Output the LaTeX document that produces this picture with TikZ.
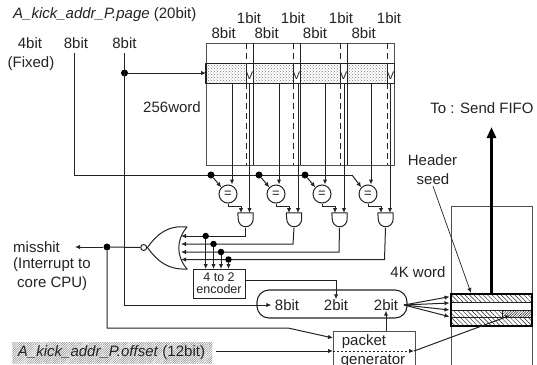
\documentclass[tikz,border=0pt]{standalone}
\usepackage{fontspec}
\setmainfont{Liberation Sans}
\usetikzlibrary{arrows.meta,patterns,patterns.meta}
\definecolor{ink}{RGB}{35,35,35}
\definecolor{frame}{RGB}{80,80,80}
\tikzset{
  >={Latex[length=5pt,width=4.5pt]},
  lbl/.style={font=\fontsize{15}{17}\selectfont,text=ink,inner sep=0pt,align=center},
  wire/.style={draw=ink,line width=1pt},
  dot/.style={circle,fill=black,inner sep=0pt,minimum size=7pt},
  cmp/.style={circle,draw=ink,line width=1pt,fill=white,inner sep=0pt,minimum size=18pt},
  andgate/.style={inner sep=0pt,minimum width=15pt,minimum height=14pt},
  mem/.style={draw=frame,line width=0.9pt},
  rowhatch/.style={pattern={Lines[angle=-45,distance=3.2pt,line width=0.45pt]},pattern color=ink},
}
\begin{document}
\begin{tikzpicture}[x=1pt,y=-1pt]
  \clip (0,0) rectangle (537,364);
  % labels
  \node[lbl,anchor=west] (page) at (13,15) {\textit{A\_kick\_addr\_P.page} (20bit)};
  \node[lbl] (b4) at (30,43) {4bit};
  \node[lbl] (fixed) at (31,64) {(Fixed)};
  \node[lbl] (b8a) at (76,43) {8bit};
  \node[lbl] (b8b) at (124.5,43) {8bit};
  \node[lbl] (words) at (172,107) {256word};
  \foreach \x [count=\i] in {249,293,341,389} \node[lbl] (one\i) at (\x,18) {1bit};
  \foreach \x [count=\i] in {223.7,266.7,315,363.7} \node[lbl] (tag\i) at (\x,33) {8bit};
  % tag memory
  \fill[pattern=crosshatch dots,pattern color=ink!60] (206,63.5) rectangle (394,83.5);
  \node[mem,inner sep=0pt,minimum width=188pt,minimum height=122pt] (tagmem) at (300,104) {};
  \draw[line width=1.2pt,draw=ink] (206,63.5) rectangle (394,83.5);
  \foreach \x in {253,300,347} \draw[wire] (\x,43) -- (\x,165);
  \foreach \x in {246,293,340,387} {
    \draw[wire,dash pattern=on 6pt off 4pt] (\x,43) -- (\x,165);
    \fill[white] (\x,64) rectangle (\x+6.5,83);
    \draw[wire] (\x,63.5) -- (\x,83.5);
    \node[lbl,font=\fontsize{11}{11}\selectfont] (v\x) at (\x+3.5,76) {V};
  }
  % index wires
  \coordinate (idxa) at (74,53);
  \coordinate (idxb) at (124.5,53);
  \node[dot] (j0) at (124.5,73) {};
  \draw[wire,->] (j0) -- (206,73);
  \node[inner sep=0pt] (pillin) at (272,305) {};
  \draw[wire,->] (idxb) |- (pillin);
  \draw[wire] (idxa) |- (352,175);
  % comparators and gates
  \foreach \i/\c/\d/\l/\v/\a in {1/228/232/241/249.5/245.5,2/276/279/289/298/294,3/322/325/335/344/339.5,4/368/371/381/390/385.5} {
    \node[cmp] (eq\i) at (\c,194) {};
    \node[font=\fontsize{13}{13}\selectfont,text=ink,inner sep=0pt] (eqs\i) at (\c,194) {=};
    \node[andgate] (and\i) at (\a,220) {};
    \draw[wire] (and\i.north west) -- (and\i.north east) -- ++(0,6) arc (0:-180:7.5pt and 8pt) -- cycle;
    \draw[wire,->] (\d,83.5) -- (\d,184.5);
    \draw[wire,->] (\v,83.5) -- (\v,213);
    \draw[wire,->] (eq\i.south) -- ++(0,3) -| (\l,213);
  }
  \foreach \i/\x in {1/211,2/259,3/305} {
    \node[dot] (m\i) at (\x,175) {};
    \draw[wire,->] (m\i) -- (eq\i.north west);
  }
  \draw[wire,->] (352,175) -- (eq4.north west);
  % nor gate
  \node[inner sep=0pt,minimum size=7pt] (bub) at (143.7,247.5) {};
  \draw[line width=1pt,draw=ink] (187,227) .. controls (176,240) and (176,256) .. (187,269)
    .. controls (168,270) and (157,261) .. (147.5,247.5) .. controls (157,234) and (168,225) .. (187,227);
  \draw[wire] (bub) circle (3pt);
  % encoder
  \node[draw=ink,line width=0.9pt,inner sep=0pt,minimum width=52pt,minimum height=29pt,lbl,
    font=\fontsize{12.5}{12}\selectfont] (enc) at (219,283.5) {4 to 2\\encoder};
  \foreach \i/\y/\x/\a in {1/236/205.7/245.5,2/244/213.5/293,3/252/221/339,4/259.5/228.5/384.5} {
    \draw[wire,->] (and\i.south |- 0,228) -- (\a,\y) -- (181,\y);
    \node[dot,minimum size=6.5pt] (e\i) at (\x,\y) {};
    \draw[wire,->] (e\i) -- (\x,269);
  }
  % pill
  \node[draw=ink,line width=1.1pt,rounded corners=12pt,minimum width=150pt,minimum height=28pt,inner sep=0pt] (pill) at (332,304) {};
  \node[lbl] (p8) at (287,305) {8bit};
  \node[lbl] (p2a) at (336,305) {2bit};
  \node[lbl] (p2b) at (386,305) {2bit};
  \draw[wire,->] (enc.east |- 0,280) -| (p2a.north);
  % packet generator
  \node[draw=frame,line width=1pt,fill=white,inner sep=0pt,minimum width=82pt,minimum height=50pt,anchor=north west] (gen) at (333,331) {};
  \node[lbl,anchor=center] (gpk) at (364,342) {packet};
  \node[lbl] (ggn) at (373,361) {generator};
  \draw[wire,->] (gen.north -| p2b) -- (p2b.south);
  % misshit
  \node[lbl,anchor=west] (miss) at (13,247) {misshit};
  \node[lbl,anchor=west] (intr) at (13,265) {(Interrupt to};
  \node[lbl,anchor=west] (core) at (17,284) {core CPU)};
  \node[dot] (j1) at (107,247) {};
  \draw[wire] (bub) -- (j1);
  \draw[wire,->] (j1) -- (75,247);
  \coordinate (gena) at (333,338);
  \draw[wire,->] (j1) |- (288,328) -- (gena);
  % offset
  \node[lbl,anchor=west,minimum height=21pt,minimum width=200pt,pattern={Lines[angle=45,distance=1.6pt,line width=0.5pt]},pattern color=ink!55] (offs) at (12,352.5) {\textit{A\_kick\_addr\_P.offset} (12bit)\hspace{1.5pt}};
  \coordinate (gend) at (333,351);
  \draw[wire,->] (216,351) -- (gend);
  \draw[wire,->,dash pattern=on 2pt off 2pt] (gend) -- (414,351);
  % fifo
  \node[mem,inner sep=0pt,minimum width=81pt,minimum height=190pt,anchor=north west] (fifo) at (450.5,206) {};
  \fill[white] (451,295) rectangle (531,325);
  \fill[rowhatch] (451,294) rectangle (531.5,302.7);
  \fill[rowhatch] (451,310) rectangle (531.5,325.7);
  \fill[white] (502,310) rectangle (531.5,317.7);
  \fill[pattern={Lines[angle=45,distance=1.8pt,line width=0.5pt]},pattern color=ink] (502,310) rectangle (531.5,317.7);
  \draw[line width=0.8pt,draw=ink] (451,302.7) -- (531.5,302.7) (451,310) -- (531.5,310) (451,317.7) -- (531.5,317.7) (502,310) -- (502,317.7);
  \node[draw=black,line width=2pt,inner sep=0pt,minimum width=81pt,minimum height=31.7pt] (buf) at (491.2,309.8) {};
  \coordinate (fan) at (404,305);
  \foreach \y in {296.7,303,310,316.7} \draw[wire,->] (fan) -- (449.5,\y);
  \draw[wire,->] (414,351) -- (510,315.5);
  \draw[line width=3.4pt,draw=black,-{Triangle[length=11pt,width=9pt]}] (buf.north -| 491.5,0) -- (491.5,127);
  \node[lbl] (send) at (482,108) {To : Send FIFO};
  \node[lbl] (head) at (432.5,160) {Header};
  \node[lbl] (seed) at (433,179) {seed};
  \node[lbl] (four) at (418,272) {4K word};
  \draw[draw=ink,line width=0.7pt,->] (seed.south) ++(0,1.5) -- (471,293);
\end{tikzpicture}
\end{document}
